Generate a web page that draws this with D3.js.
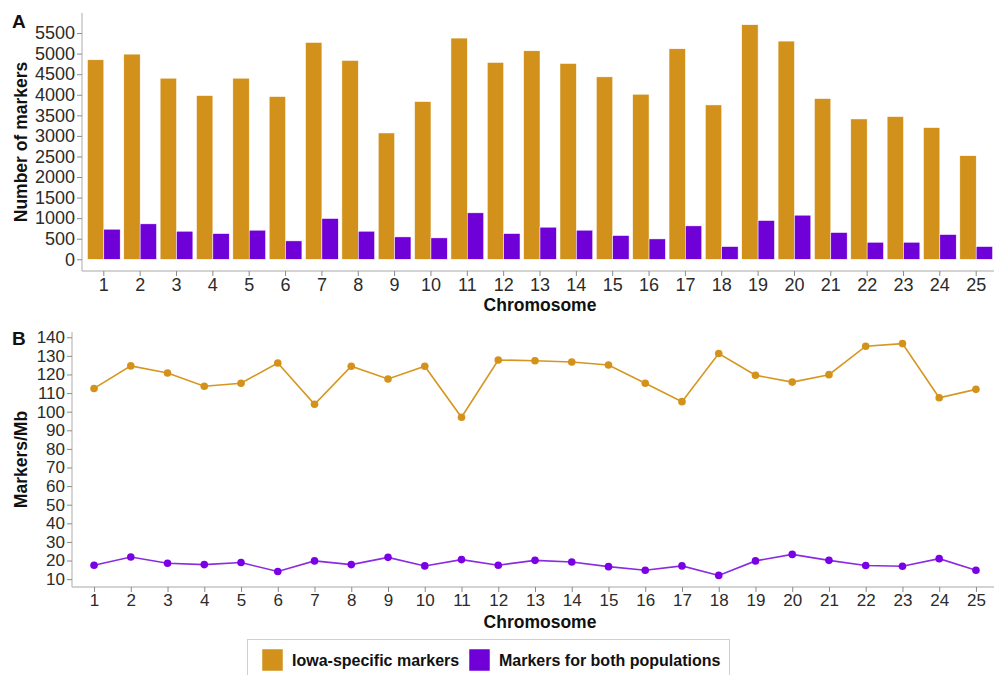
<!DOCTYPE html>
<html>
<head>
<meta charset="utf-8">
<script src="https://cdn.jsdelivr.net/npm/d3@7"></script>
<style>
	body { margin: 0; background: #fff; }
	svg { display: block; font-family: "Liberation Sans", Arial, sans-serif; }
	.axis path, .axis line { stroke: #c4c4c4; stroke-width: 1.4px; }
	.axis .tick line { stroke: #8a8a8a; stroke-width: 1px; }
	.axis text { fill: #2b2b2b; }
	.axis-a text { font-size: 18px; }
	.axis-b text { font-size: 17px; }
	.title { font-weight: bold; font-size: 17.5px; fill: #111; }
	.legend-text { font-weight: bold; font-size: 16px; fill: #111; }
	.tag { font-weight: bold; font-size: 19px; fill: #111; }
</style>
</head>
<body>
<div id="chart-area"></div>
<script>
// chart values
let chromosomes = d3.range(1, 26).map(String);
let seriesNames = ["Iowa-specific markers", "Markers for both populations"];
let iowaMarkers = [4850, 4988, 4403, 3980, 4403, 3956, 5272, 4833, 3071, 3834, 5378, 4785, 5069,
	4760, 4435, 4013, 5118, 3753, 5703, 5305, 3907, 3412, 3469, 3201, 2518];
let bothMarkers = [731, 861, 682, 625, 707, 447, 991, 682, 544, 520, 1129, 625, 780,
	707, 577, 495, 812, 309, 942, 1072, 650, 414, 414, 601, 309];
let iowaPerMb = [112.5, 124.6, 120.8, 113.7, 115.3, 126.2, 104.0, 124.4, 117.6, 124.4, 97.0, 127.8, 127.4,
	126.7, 125.1, 115.3, 105.4, 131.3, 119.6, 115.9, 119.9, 135.2, 136.6, 107.5, 112.0];
let bothPerMb = [17.5, 21.9, 18.5, 17.8, 18.9, 14.1, 19.8, 17.8, 21.7, 17.1, 20.5, 17.5, 20.1,
	19.2, 16.7, 14.8, 17.1, 12.0, 19.8, 23.3, 20.1, 17.3, 16.9, 21.0, 14.8];
let countTicks = d3.range(0, 5501, 500);
let densityTicks = d3.range(10, 141, 10);

let colors = ["#d1911b", "#7000d8"];
let lineColors = ["#d6961f", "#8a2be2"];
let pointColors = ["#d4921a", "#7a00e6"];

let width = 994,
	height = 675;

let svg = d3.select("#chart-area")
	.append("svg")
	.attr("width", width)
	.attr("height", height);

// ---------- Panel A: bars ----------
let a = { left: 82, right: 998, top: 13, bottom: 271 };

let xA = d3.scaleBand()
	.domain(chromosomes)
	.range([a.left, a.right])
	.paddingInner(0.1)
	.paddingOuter(0.15);
let xSub = d3.scaleBand()
	.domain([0, 1])
	.range([0, xA.bandwidth()]);

let maxA = d3.max(iowaMarkers.concat(bothMarkers));
let yA = d3.scaleLinear()
	.domain([-0.05 * maxA, maxA * 1.05])
	.range([a.bottom, a.top]);

let barData = [];
chromosomes.forEach(function(c, i) {
	barData.push({ chr: c, s: 0, v: iowaMarkers[i] });
	barData.push({ chr: c, s: 1, v: bothMarkers[i] });
});

svg.append("g")
	.selectAll("rect")
	.data(barData)
	.enter()
	.append("rect")
	.attr("x", d => xA(d.chr) + xSub(d.s))
	.attr("width", xSub.bandwidth())
	.attr("y", d => yA(d.v))
	.attr("height", d => yA(0) - yA(d.v))
	.attr("fill", d => colors[d.s])
	.attr("stroke", "#ffffff")
	.attr("stroke-width", 0.5);

svg.append("g")
	.attr("class", "axis axis-a")
	.attr("transform", "translate(" + a.left + ",0)")
	.call(d3.axisLeft(yA).tickValues(countTicks).tickFormat(d3.format("d"))
		.tickSize(5).tickPadding(2).tickSizeOuter(0))
	.call(g => g.select(".domain").attr("d", "M0," + a.top + "V" + a.bottom));

svg.append("g")
	.attr("class", "axis axis-a")
	.attr("transform", "translate(0," + a.bottom + ")")
	.call(d3.axisBottom(xA).tickSize(5).tickPadding(2).tickSizeOuter(0))
	.call(g => g.select(".domain").attr("d", "M" + a.left + ",0H" + a.right));

svg.append("text")
	.attr("class", "title")
	.attr("x", (a.left + a.right) / 2)
	.attr("y", 311)
	.attr("text-anchor", "middle")
	.text("Chromosome");
svg.append("text")
	.attr("class", "title")
	.attr("transform", "translate(27," + (a.top + a.bottom) / 2 + ") rotate(-90)")
	.attr("text-anchor", "middle")
	.text("Number of markers");
svg.append("text")
	.attr("class", "tag")
	.attr("x", 12)
	.attr("y", 28)
	.text("A");

// ---------- Panel B: lines ----------
let b = { left: 72, right: 998, top: 332, bottom: 587 };

let xB = d3.scalePoint()
	.domain(chromosomes)
	.range([b.left, b.right])
	.padding(0.6);

let allB = iowaPerMb.concat(bothPerMb);
let minB = d3.min(allB), maxB = d3.max(allB);
let padB = (maxB - minB) * 0.05;
let yB = d3.scaleLinear()
	.domain([minB - padB, maxB + padB])
	.range([b.bottom, b.top]);

let lineSeries = [iowaPerMb, bothPerMb];
let line = d3.line()
	.x((d, i) => xB(chromosomes[i]))
	.y(d => yB(d));

lineSeries.forEach(function(vals, s) {
	svg.append("path")
		.datum(vals)
		.attr("d", line)
		.attr("fill", "none")
		.attr("stroke", lineColors[s])
		.attr("stroke-width", 1.6);
	svg.append("g")
		.selectAll("circle")
		.data(vals)
		.enter()
		.append("circle")
		.attr("cx", (d, i) => xB(chromosomes[i]))
		.attr("cy", d => yB(d))
		.attr("r", 3.8)
		.attr("fill", pointColors[s]);
});

svg.append("g")
	.attr("class", "axis axis-b")
	.attr("transform", "translate(" + b.left + ",0)")
	.call(d3.axisLeft(yB).tickValues(densityTicks).tickSize(5).tickPadding(2).tickSizeOuter(0))
	.call(g => g.select(".domain").attr("d", "M0," + b.top + "V" + b.bottom));

svg.append("g")
	.attr("class", "axis axis-b")
	.attr("transform", "translate(0," + b.bottom + ")")
	.call(d3.axisBottom(xB).tickSize(5).tickPadding(2).tickSizeOuter(0))
	.call(g => g.select(".domain").attr("d", "M" + b.left + ",0H" + b.right));

svg.append("text")
	.attr("class", "title")
	.attr("x", (a.left + a.right) / 2)
	.attr("y", 628)
	.attr("text-anchor", "middle")
	.text("Chromosome");
svg.append("text")
	.attr("class", "title")
	.attr("transform", "translate(27," + (b.top + b.bottom) / 2 + ") rotate(-90)")
	.attr("text-anchor", "middle")
	.text("Markers/Mb");
svg.append("text")
	.attr("class", "tag")
	.attr("x", 12)
	.attr("y", 345)
	.text("B");

// ---------- Legend ----------
let legend = svg.append("g");
legend.append("rect")
	.attr("x", 247.5)
	.attr("y", 639.5)
	.attr("width", 482)
	.attr("height", 50)
	.attr("fill", "#fff")
	.attr("stroke", "#d0d0d0");

let legendX = [262, 469];
seriesNames.forEach(function(name, s) {
	legend.append("rect")
		.attr("x", legendX[s])
		.attr("y", 649)
		.attr("width", 21)
		.attr("height", 22)
		.attr("fill", colors[s])
		.attr("stroke", "#fff")
		.attr("stroke-width", 0.5);
	legend.append("text")
		.attr("class", "legend-text")
		.attr("x", legendX[s] + 30)
		.attr("y", 666)
		.text(name);
});
</script>
</body>
</html>
